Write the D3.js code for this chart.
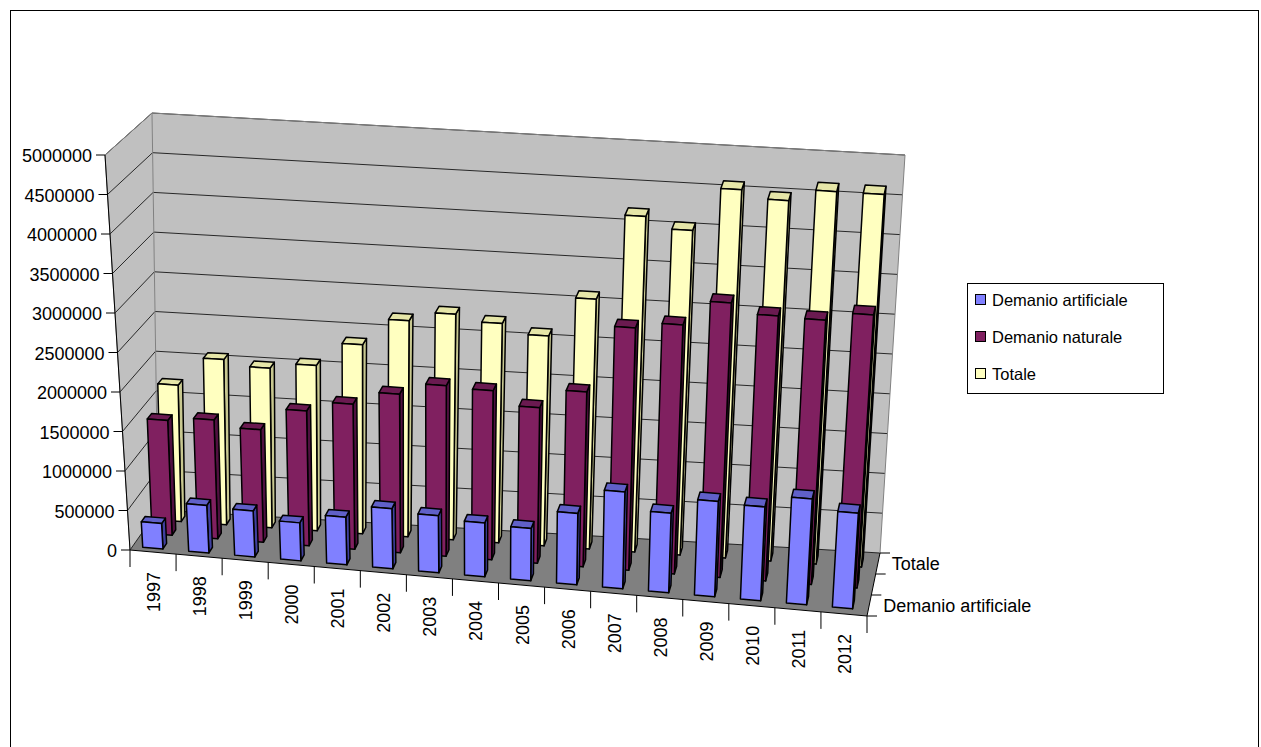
<!DOCTYPE html>
<html><head><meta charset="utf-8">
<script src="https://cdn.jsdelivr.net/npm/d3@7/dist/d3.min.js"></script>
<style>body{margin:0;background:#fff}text{font-family:"Liberation Sans",Arial,sans-serif;font-size:18px}</style>
</head><body><svg id="c" width="1261" height="747"></svg>
<script>
const years=["1997","1998","1999","2000","2001","2002","2003","2004","2005","2006","2007","2008","2009","2010","2011","2012"];
const artificiale=[320000,600000,580000,480000,600000,760000,720000,680000,660000,900000,1220000,1000000,1200000,1180000,1330000,1200000];
const naturale=[1450000,1500000,1420000,1700000,1830000,2000000,2150000,2130000,1960000,2200000,3050000,3130000,3450000,3330000,3320000,3430000];
const totale=[1720000,2080000,2010000,2080000,2380000,2720000,2840000,2760000,2640000,3140000,4220000,4080000,4630000,4530000,4680000,4680000];
const seriesNames=["Demanio artificiale","Demanio naturale","Totale"];
const yTicks=d3.range(0,5000001,500000);

const svg=d3.select("#c");
svg.append("rect").attr("x",10.5).attr("y",10.5).attr("width",1248).attr("height",745).attr("fill","none").attr("stroke","#000");

const F={bl:[130,550],br:[867,616],tl:[105,155],tr:[892,218]};
const B={bl:[158,510],br:[880,553],tl:[152,113],tr:[905,155]};
function bil(P,u,v){const b=[P.bl[0]+(P.br[0]-P.bl[0])*u,P.bl[1]+(P.br[1]-P.bl[1])*u];
 const t=[P.tl[0]+(P.tr[0]-P.tl[0])*u,P.tl[1]+(P.tr[1]-P.tl[1])*u];
 return [b[0]+(t[0]-b[0])*v,b[1]+(t[1]-b[1])*v];}
function proj(u,v,w){const a=bil(F,u,v),b=bil(B,u,v);return [a[0]+(b[0]-a[0])*w,a[1]+(b[1]-a[1])*w];}
const xs=d3.scaleBand().domain(years).range([0,1]);
const vs=d3.scaleLinear().domain([0,5000000]).range([0,1]);
const ws=d3.scaleBand().domain(seriesNames).range([0,1]);
function poly(pts,fill,stroke,sw){svg.append("polygon").attr("points",pts.map(p=>p.join(",")).join(" ")).attr("fill",fill).attr("stroke",stroke||"none").attr("stroke-width",sw||1).attr("stroke-linejoin","round");}
poly([proj(0,0,1),proj(1,0,1),proj(1,1,1),proj(0,1,1)],"#c0c0c0");
poly([proj(0,0,0),proj(0,0,1),proj(0,1,1),proj(0,1,0)],"#c0c0c0");
poly([proj(0,0,0),proj(1,0,0),proj(1,0,1),proj(0,0,1)],"#808080");
yTicks.forEach(t=>{const v=vs(t);const a=proj(0,v,0),b=proj(0,v,1),c=proj(1,v,1);
 svg.append("polyline").attr("points",[a,b,c].map(p=>p.join(",")).join(" ")).attr("fill","none").attr("stroke","#000").attr("stroke-width",0.8);});
svg.append("polyline").attr("points",[proj(0,0,0),proj(0,1,0),proj(0,1,1),proj(1,1,1),proj(1,0,1)].map(p=>p.join(",")).join(" ")).attr("fill","none").attr("stroke","#808080").attr("stroke-width",1);
svg.append("line").attr("x1",proj(0,0,1)[0]).attr("y1",proj(0,0,1)[1]).attr("x2",proj(0,1,1)[0]).attr("y2",proj(0,1,1)[1]).attr("stroke","#808080");
const axG=svg.append("g");
function ln(a,b){axG.append("line").attr("x1",a[0]).attr("y1",a[1]).attr("x2",b[0]).attr("y2",b[1]).attr("stroke","#000");}
ln(proj(0,0,0),proj(0,1,0));
ln(proj(0,0,0),proj(1,0,0));
ln(proj(1,0,0),proj(1,0,1));
yTicks.forEach(t=>{const p=proj(0,vs(t),0);ln([p[0]-9,p[1]],p);
 axG.append("text").attr("x",p[0]-13).attr("y",p[1]+7).attr("text-anchor","end").text(t);});
years.forEach((y,i)=>{const p=proj(xs(y),0,0);ln(p,[p[0],p[1]+17]);
 const c=proj(xs(y)+xs.bandwidth()/2,0,0);
 axG.append("text").attr("transform",`translate(${c[0]+7},${c[1]+20}) rotate(-90)`).attr("text-anchor","end").text(y);});
{const p=proj(1,0,0);ln(p,[p[0],p[1]+17]);}
[0,1/3,2/3,1].forEach(w=>{const p=proj(1,0,w);ln(p,[p[0]+10,p[1]]);});
[["Totale",ws("Totale")+ws.bandwidth()/2],["Demanio artificiale",ws("Demanio artificiale")+ws.bandwidth()/2]].forEach(([n,w])=>{
 const p=proj(1,0,w);axG.append("text").attr("x",p[0]+14).attr("y",p[1]+6).text(n);});
const series=[{name:"Totale",vals:totale,c:["#ffffc0","#c8c890","#e6e6a8"]},
 {name:"Demanio naturale",vals:naturale,c:["#802060","#501040","#6a1a50"]},
 {name:"Demanio artificiale",vals:artificiale,c:["#8080ff","#4040a0","#6060c8"]}];
series.forEach(s=>{const w0=ws(s.name)+ws.bandwidth()*0.28,w1=ws(s.name)+ws.bandwidth()*0.68;
 years.forEach((y,i)=>{const u0=xs(y)+xs.bandwidth()*0.22,u1=xs(y)+xs.bandwidth()*0.66,v=vs(s.vals[i]);
  poly([proj(u1,0,w0),proj(u1,0,w1),proj(u1,v,w1),proj(u1,v,w0)],s.c[1],"#000",1.5);
  poly([proj(u0,v,w0),proj(u1,v,w0),proj(u1,v,w1),proj(u0,v,w1)],s.c[2],"#000",1.5);
  poly([proj(u0,0,w0),proj(u1,0,w0),proj(u1,v,w0),proj(u0,v,w0)],s.c[0],"#000",1.5);
 });});
const lg=svg.append("g");
lg.append("rect").attr("x",967.5).attr("y",283.5).attr("width",196).attr("height",110).attr("fill","#fff").attr("stroke","#000");
[["Demanio artificiale","#8080ff"],["Demanio naturale","#802060"],["Totale","#ffffc0"]].forEach(([n,c],i)=>{
 const y=300+i*37;
 lg.append("rect").attr("x",975.5).attr("y",y-5.5).attr("width",10).attr("height",10).attr("fill",c).attr("stroke","#000");
 lg.append("text").attr("x",992).attr("y",y+6).style("font-size","16.5px").text(n);});
</script></body></html>
